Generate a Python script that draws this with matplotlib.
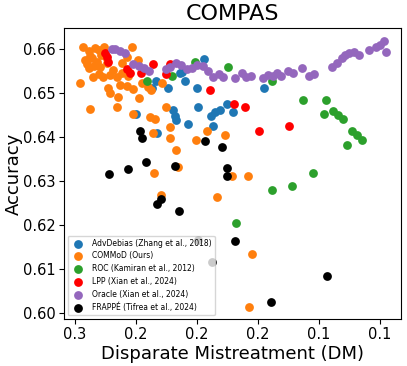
import matplotlib
matplotlib.use("Agg")
import matplotlib.pyplot as plt
from matplotlib.ticker import FormatStrFormatter

# AdvDebias (Zhang et al., 2018)
adv_dm = [0.1954, 0.2269, 0.2190, 0.2000, 0.2112, 0.2079, 0.2295, 0.1561, 0.1994, 0.2158, 0.2145,
          0.2138, 0.2059, 0.1804, 0.1764, 0.1882, 0.1849, 0.1908, 0.1895, 0.2400, 0.2263, 0.2099]
adv_acc = [0.6577, 0.6527, 0.6511, 0.6511, 0.6545, 0.6527, 0.6511, 0.6511, 0.6468, 0.6461, 0.6448,
           0.6439, 0.6430, 0.6475, 0.6457, 0.6457, 0.6461, 0.6448, 0.6425, 0.6452, 0.6409, 0.6548]

# COMMoD (Ours)
com_dm = [0.2748, 0.2708, 0.2669, 0.2643, 0.2610, 0.2426, 0.2735, 0.2702, 0.2689, 0.2656, 0.2630,
          0.2597, 0.2722, 0.2676, 0.2636, 0.2590, 0.2551, 0.2492, 0.2459, 0.2387, 0.2708, 0.2682,
          0.2643, 0.2617, 0.2571, 0.2525, 0.2492, 0.2453, 0.2767, 0.2584, 0.2571, 0.2518, 0.2505,
          0.2459, 0.2420, 0.2381, 0.2361, 0.2322, 0.2302, 0.2230, 0.2702, 0.2525, 0.2420, 0.2308,
          0.2276, 0.2204, 0.2177, 0.2289, 0.2177, 0.2138, 0.2007, 0.1935, 0.1817, 0.2125, 0.2282,
          0.1771, 0.1666, 0.2236, 0.1869, 0.1640, 0.1659]
com_acc = [0.6605, 0.6595, 0.6602, 0.6598, 0.6605, 0.6605, 0.6575, 0.6584, 0.6580, 0.6570, 0.6586,
           0.6582, 0.6566, 0.6561, 0.6559, 0.6568, 0.6552, 0.6568, 0.6582, 0.6575, 0.6557, 0.6536,
           0.6543, 0.6536, 0.6541, 0.6536, 0.6545, 0.6539, 0.6523, 0.6511, 0.6500, 0.6491, 0.6518,
           0.6516, 0.6509, 0.6489, 0.6523, 0.6514, 0.6507, 0.6523, 0.6464, 0.6468, 0.6452, 0.6445,
           0.6441, 0.6468, 0.6423, 0.6409, 0.6398, 0.6370, 0.6393, 0.6414, 0.6405, 0.6332, 0.6318,
           0.6311, 0.6311, 0.6268, 0.6264, 0.6134, 0.6014]

# ROC (Kamiran et al., 2012)
roc_dm = [0.2013, 0.1797, 0.2328, 0.2164, 0.1508, 0.1305, 0.1154, 0.1168, 0.1108, 0.1076,
          0.1043, 0.0984, 0.0951, 0.0918, 0.1017, 0.1240, 0.1377, 0.1508, 0.1744]
roc_acc = [0.6570, 0.6559, 0.6527, 0.6539, 0.6527, 0.6484, 0.6484, 0.6452, 0.6459, 0.6450,
           0.6441, 0.6414, 0.6405, 0.6393, 0.6382, 0.6318, 0.6289, 0.6280, 0.6205]

# LPP (Xian et al., 2024)
lpp_dm = [0.2604, 0.2590, 0.2584, 0.2459, 0.2440, 0.2367, 0.2289, 0.2177, 0.2204, 0.1915,
          0.1758, 0.1685, 0.1594, 0.1397]
lpp_acc = [0.6591, 0.6582, 0.6570, 0.6555, 0.6545, 0.6545, 0.6566, 0.6566, 0.6543, 0.6507,
           0.6475, 0.6468, 0.6414, 0.6425]

# Oracle (Xian et al., 2024)
ora_dm = [0.2558, 0.2538, 0.2505, 0.2472, 0.2420, 0.2381, 0.2348, 0.2315, 0.2204, 0.2177, 0.2138,
          0.2105, 0.2066, 0.2033, 0.2000, 0.1961, 0.1928, 0.1895, 0.1856, 0.1830, 0.1751, 0.1705,
          0.1679, 0.1646, 0.1567, 0.1535, 0.1502, 0.1476, 0.1449, 0.1404, 0.1371, 0.1312, 0.1266,
          0.1233, 0.1115, 0.1082, 0.1049, 0.1030, 0.1004, 0.0971, 0.0938, 0.0872, 0.0827, 0.0800,
          0.0774, 0.0761]
ora_acc = [0.6600, 0.6600, 0.6595, 0.6591, 0.6566, 0.6561, 0.6557, 0.6550, 0.6555, 0.6559, 0.6568,
           0.6564, 0.6555, 0.6557, 0.6564, 0.6561, 0.6550, 0.6536, 0.6543, 0.6536, 0.6534, 0.6545,
           0.6536, 0.6539, 0.6534, 0.6541, 0.6539, 0.6545, 0.6539, 0.6550, 0.6545, 0.6557, 0.6539,
           0.6543, 0.6559, 0.6568, 0.6580, 0.6586, 0.6591, 0.6593, 0.6586, 0.6598, 0.6605, 0.6609,
           0.6618, 0.6593]

# FRAPPÉ (Tifrea et al., 2024)
fra_dm = [0.2374, 0.2361, 0.1948, 0.1836, 0.2335, 0.2453, 0.2577, 0.2145, 0.1804, 0.1804,
          0.2236, 0.2263, 0.2118, 0.1994, 0.1751, 0.1902, 0.1148, 0.1515]
fra_acc = [0.6414, 0.6398, 0.6391, 0.6377, 0.6343, 0.6327, 0.6316, 0.6334, 0.6330, 0.6311,
           0.6259, 0.6248, 0.6232, 0.6166, 0.6163, 0.6116, 0.6084, 0.6025]

series = [
    (adv_dm, adv_acc, "#1f77b4", "AdvDebias (Zhang et al., 2018)"),
    (com_dm, com_acc, "#ff7f0e", "COMMoD (Ours)"),
    (roc_dm, roc_acc, "#2ca02c", "ROC (Kamiran et al., 2012)"),
    (lpp_dm, lpp_acc, "red", "LPP (Xian et al., 2024)"),
    (ora_dm, ora_acc, "#9467bd", "Oracle (Xian et al., 2024)"),
    (fra_dm, fra_acc, "black", "FRAPPÉ (Tifrea et al., 2024)"),
]

fig = plt.figure(figsize=(4.07, 3.66), dpi=100)
ax = fig.add_axes([0.157, 0.128, 0.828, 0.795])

for dm, acc, cor, nome in series:
    ax.scatter(dm, acc, s=40, color=cor, label=nome, linewidths=0)

ax.set_xlim(0.2872, 0.0662)
ax.set_ylim(0.5986, 0.6648)
ax.set_xticks([0.28, 0.24, 0.20, 0.16, 0.12, 0.08])
ax.xaxis.set_major_formatter(FormatStrFormatter("%.1f"))
ax.set_yticks([0.60, 0.61, 0.62, 0.63, 0.64, 0.65, 0.66])
ax.yaxis.set_major_formatter(FormatStrFormatter("%.2f"))
ax.tick_params(labelsize=10.5, pad=2.5)

ax.set_title("COMPAS", fontsize=16)
ax.set_xlabel("Disparate Mistreatment (DM)", fontsize=13, labelpad=2)
ax.set_ylabel("Accuracy", fontsize=13, labelpad=0)
ax.legend(loc="lower left", fontsize=5.5)

fig.savefig("out.png", dpi=100)
